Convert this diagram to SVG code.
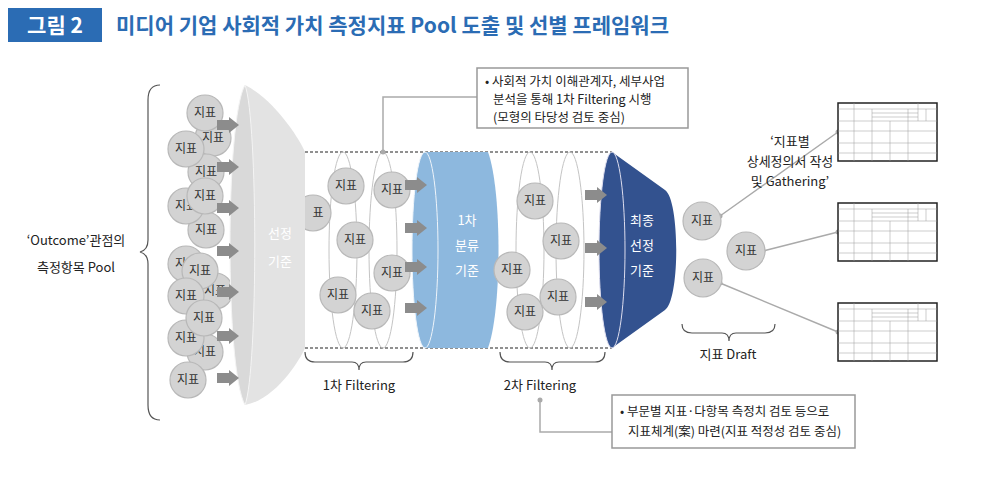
<svg xmlns="http://www.w3.org/2000/svg" width="1000" height="481" viewBox="0 0 1000 481">
<defs>
<style>
text{font-family:"Noto Sans CJK KR","Noto Sans",sans-serif}
.c{fill:#d3d3d3;stroke:#b8b8b8;stroke-width:1.2}
.ct{font-size:12px;fill:#333;text-anchor:middle}
.el{fill:none;stroke:#c4c4c4;stroke-width:1}
.br{fill:none;stroke:#555;stroke-width:1.2}
.lb{font-size:13px;fill:#222;text-anchor:middle}
.ln{fill:none;stroke:#aaa;stroke-width:1.5}
.w{font-size:13px;fill:#fff;text-anchor:middle}
.tb{fill:#fff;stroke:#222;stroke-width:1.5}
.g{stroke:#999;stroke-width:0.5}
</style>
<path id="ar" d="M0 3H12V0L22 8L12 16V13H0Z" fill="#8c8c8c"/>
<g id="tbl">
<rect class="tb" x="0" y="0" width="99" height="58"/>
<path class="g" d="M0 6H99M0 18H99M0 28H99M0 40H99M0 50H99M16 0V58M34 6V58M52 18V58M70 6V58M80 0V18M88 6V18M34 10H80M34 14H80"/>
</g>
</defs>
<rect x="8" y="8" width="94" height="34" fill="#2b6cb4"/>
<text x="55" y="33" font-size="21" fill="#fff" text-anchor="middle" font-weight="bold">그림 2</text>
<text x="116" y="33" font-size="21" fill="#2b6cb4" font-weight="bold">미디어 기업 사회적 가치 측정지표 Pool 도출 및 선별 프레임워크</text>

<g id="left-label">
<path class="br" d="M160 85Q148 85 148 100V240Q148 250 140 252Q148 254 148 264V405Q148 420 160 420" stroke="#999"/>
<text class="lb" x="76" y="245">‘Outcome’관점의</text>
<text class="lb" x="76" y="272">측정항목 Pool</text>
</g>

<g id="connectors">
<path d="M305 152H612M305 348H612" stroke="#222" stroke-width="1.2" stroke-dasharray="3 2"/>
<ellipse class="el" cx="343" cy="250" rx="14" ry="98"/>
<ellipse class="el" cx="383" cy="250" rx="14" ry="98"/>
<ellipse class="el" cx="530" cy="250" rx="14" ry="98"/>
<ellipse class="el" cx="570" cy="250" rx="14" ry="98"/>
<path class="ln" d="M477 97H383V152"/><circle cx="383" cy="152" r="2.5" fill="#aaa"/>
<path class="ln" d="M540 400V432H612"/><circle cx="540" cy="400" r="2.5" fill="#aaa"/>
<path class="ln" d="M720 216L838 132M763 251L838 232M720 283L838 332"/>
<circle cx="838" cy="132" r="2.5" fill="#aaa"/><circle cx="838" cy="232" r="2.5" fill="#aaa"/><circle cx="838" cy="332" r="2.5" fill="#aaa"/>
<circle cx="720" cy="216" r="2.5" fill="#aaa"/><circle cx="763" cy="251" r="2.5" fill="#aaa"/><circle cx="720" cy="283" r="2.5" fill="#aaa"/>
</g>

<g id="pool" class="ct">
<circle class="c" cx="213" cy="138" r="18"/><text x="213" y="142">지표</text>
<circle class="c" cx="205" cy="113" r="18"/><text x="205" y="117">지표</text>
<circle class="c" cx="206" cy="172" r="18"/><text x="206" y="176">지표</text>
<circle class="c" cx="186" cy="149" r="18"/><text x="186" y="153">지표</text>
<circle class="c" cx="206" cy="230" r="18"/><text x="206" y="234">지표</text>
<circle class="c" cx="186" cy="206" r="18"/><text x="186" y="210">지표</text>
<circle class="c" cx="205" cy="196" r="18"/><text x="205" y="200">지표</text>
<circle class="c" cx="215" cy="291" r="18"/><text x="215" y="295">지표</text>
<circle class="c" cx="186" cy="264" r="18"/><text x="186" y="268">지표</text>
<circle class="c" cx="200" cy="271" r="18"/><text x="200" y="275">지표</text>
<circle class="c" cx="205" cy="352" r="18"/><text x="205" y="356">지표</text>
<circle class="c" cx="186" cy="296" r="18"/><text x="186" y="300">지표</text>
<circle class="c" cx="186" cy="338" r="18"/><text x="186" y="342">지표</text>
<circle class="c" cx="204" cy="318" r="18"/><text x="204" y="322">지표</text>
<circle class="c" cx="188" cy="380" r="18"/><text x="188" y="384">지표</text>
</g>

<g id="funnel1">
<circle class="c" cx="313" cy="213" r="18"/><text class="ct" x="318" y="217">표</text>
<path d="M245 85C275 100 300 140 305 152V348C300 360 275 400 245 405Z" fill="#e3e3e3"/>
<path d="M245 85C225 120 225 370 245 405C258 370 258 120 245 85Z" fill="#d9d9d9" stroke="#f4f4f4"/>
<text class="w" x="280" y="238">선정</text><text class="w" x="280" y="266">기준</text>
</g>
<g id="pool-arrows">
<use href="#ar" x="217" y="117"/><use href="#ar" x="217" y="159"/>
<use href="#ar" x="217" y="200"/><use href="#ar" x="217" y="243"/>
<use href="#ar" x="217" y="284"/><use href="#ar" x="217" y="328"/>
<use href="#ar" x="217" y="370"/>
</g>

<g id="stage1" class="ct">
<circle class="c" cx="346" cy="186" r="18"/><text x="346" y="190">지표</text>
<circle class="c" cx="355" cy="240" r="18"/><text x="355" y="244">지표</text>
<circle class="c" cx="338" cy="295" r="18"/><text x="338" y="299">지표</text>
<circle class="c" cx="372" cy="311" r="18"/><text x="372" y="315">지표</text>
<circle class="c" cx="392" cy="190" r="18"/><text x="392" y="194">지표</text>
<circle class="c" cx="392" cy="273" r="18"/><text x="392" y="277">지표</text>
</g>

<g id="cyl">
<path d="M425 152H488C502 190 502 310 488 348H425Z" fill="#8db8de"/>
<ellipse cx="425" cy="250" rx="13" ry="98" fill="#8db8de" stroke="#eef4fa"/>
<text class="w" x="467" y="225">1차</text><text class="w" x="467" y="250">분류</text><text class="w" x="467" y="275">기준</text>
</g>
<g id="stage1-arrows">
<use href="#ar" x="405" y="177"/><use href="#ar" x="405" y="220"/>
<use href="#ar" x="405" y="259"/><use href="#ar" x="405" y="300"/>
</g>

<g id="stage2" class="ct">
<circle class="c" cx="535" cy="201" r="18"/><text x="535" y="205">지표</text>
<circle class="c" cx="561" cy="241" r="18"/><text x="561" y="245">지표</text>
<circle class="c" cx="512" cy="270" r="18"/><text x="512" y="274">지표</text>
<circle class="c" cx="525" cy="312" r="18"/><text x="525" y="316">지표</text>
<circle class="c" cx="558" cy="297" r="18"/><text x="558" y="301">지표</text>
</g>

<g id="funnel2">
<path d="M612 152L665 190C680 200 680 300 665 310L612 348Z" fill="#33528f"/>
<ellipse cx="612" cy="250" rx="13" ry="98" fill="#33528f" stroke="#dde"/>
<text class="w" x="642" y="225">최종</text><text class="w" x="642" y="250">선정</text><text class="w" x="642" y="275">기준</text>
</g>
<g id="stage2-arrows">
<use href="#ar" x="585" y="187"/><use href="#ar" x="585" y="240"/>
<use href="#ar" x="585" y="294"/>
</g>

<g id="draft" class="ct">
<circle class="c" cx="702" cy="221" r="19"/><text x="702" y="225">지표</text>
<circle class="c" cx="746" cy="251" r="19"/><text x="746" y="255">지표</text>
<circle class="c" cx="703" cy="278" r="19"/><text x="703" y="282">지표</text>
</g>

<g id="tables">
<use href="#tbl" x="838" y="103"/><use href="#tbl" x="838" y="203"/><use href="#tbl" x="838" y="303"/>
</g>
<text class="lb" x="790" y="146">‘지표별</text>
<text class="lb" x="790" y="166">상세정의서 작성</text>
<text class="lb" x="790" y="186">및 Gathering’</text>

<g id="braces">
<path class="br" d="M305 352Q305 362 315 362H352Q359 362 359 370Q359 362 366 362H403Q413 362 413 352"/>
<text class="lb" x="359" y="390">1차 Filtering</text>
<path class="br" d="M500 352Q500 362 510 362H545Q552 362 552 370Q552 362 559 362H595Q605 362 605 352"/>
<text class="lb" x="540" y="390">2차 Filtering</text>
<path class="br" d="M682 324Q682 333 692 333H722Q729 333 729 341Q729 333 736 333H765Q775 333 775 324"/>
<text class="lb" x="728" y="359">지표 Draft</text>
</g>

<g id="callout1">
<rect x="477" y="68" width="211" height="60" fill="#fff" stroke="#999" stroke-width="1.5"/>
<g font-size="12.5" fill="#222"><text x="485" y="86">• 사회적 가치 이해관계자, 세부사업</text><text x="493" y="104">분석을 통해 1차 Filtering 시행</text><text x="493" y="122">(모형의 타당성 검토 중심)</text></g>
</g>
<g id="callout2">
<rect x="612" y="395" width="243" height="53" fill="#fff" stroke="#999" stroke-width="1.5"/>
<g font-size="12.5" fill="#222"><text x="620" y="416">• 부문별 지표·다항목 측정치 검토 등으로</text><text x="628" y="436">지표체계(案) 마련(지표 적정성 검토 중심)</text></g>
</g>
</svg>
